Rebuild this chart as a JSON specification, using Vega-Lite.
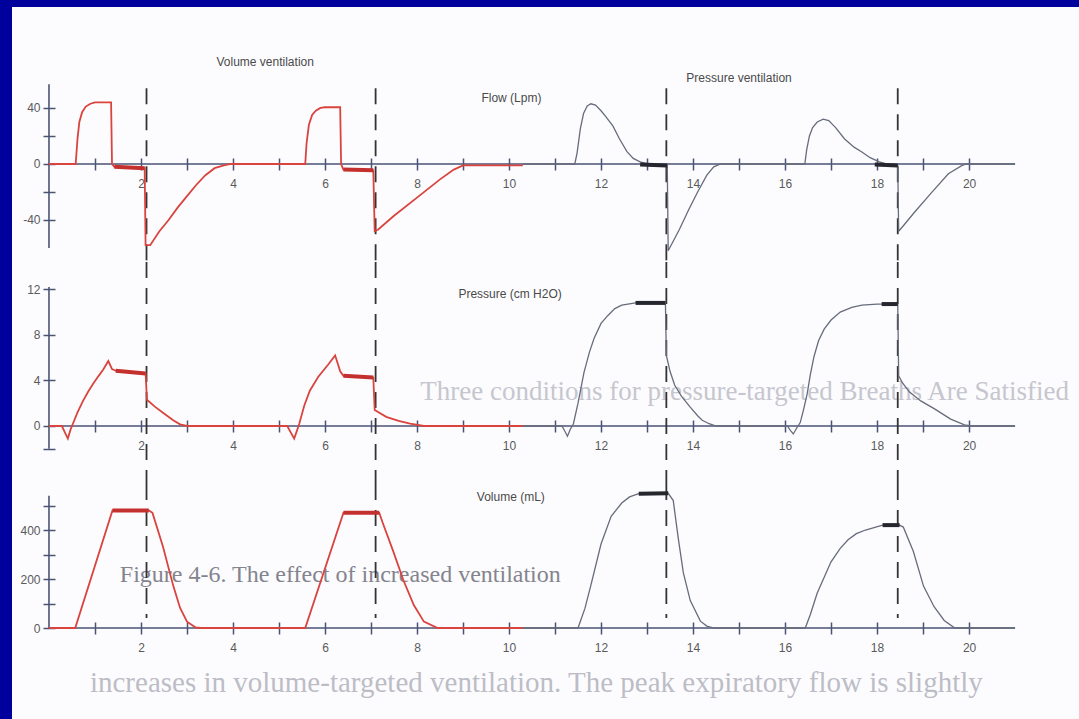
{
  "$schema": "https://vega.github.io/schema/vega-lite/v6.json",
  "padding": {"left": 12, "top": 7, "right": 0, "bottom": 0},
  "background": "#00009c",
  "spacing": 0,
  "bounds": "flush",
  "config": {
    "view": {"fill": "#fcfcfe", "stroke": null},
    "font": "Liberation Sans",
    "concat": {"spacing": 0},
    "axis": {
      "domain": false,
      "grid": false,
      "title": null,
      "tickSize": 12,
      "tickWidth": 1.5,
      "tickColor": "#4b5374",
      "labelColor": "#5a5a5a",
      "labelFont": "Liberation Sans",
      "labelFontSize": 12,
      "labelOverlap": false,
      "labelFlush": false
    }
  },
  "datasets": {
    "flow": [
      {"t": 0, "v": 0, "mode": "volume"}, {"t": 0.58, "v": 0, "mode": "volume"}, {"t": 0.62, "v": 18, "mode": "volume"},
      {"t": 0.66, "v": 30, "mode": "volume"}, {"t": 0.72, "v": 37, "mode": "volume"}, {"t": 0.8, "v": 41, "mode": "volume"},
      {"t": 0.9, "v": 43, "mode": "volume"}, {"t": 1.0, "v": 44, "mode": "volume"}, {"t": 1.35, "v": 44, "mode": "volume"},
      {"t": 1.37, "v": 0, "mode": "volume"}, {"t": 1.42, "v": -2, "mode": "volume"}, {"t": 2.08, "v": -3, "mode": "volume"},
      {"t": 2.1, "v": -58, "mode": "volume"}, {"t": 2.2, "v": -58, "mode": "volume"}, {"t": 2.4, "v": -48, "mode": "volume"},
      {"t": 2.6, "v": -40, "mode": "volume"}, {"t": 2.8, "v": -31, "mode": "volume"}, {"t": 3.0, "v": -23, "mode": "volume"},
      {"t": 3.2, "v": -15, "mode": "volume"}, {"t": 3.4, "v": -8, "mode": "volume"}, {"t": 3.6, "v": -3, "mode": "volume"},
      {"t": 3.8, "v": -1, "mode": "volume"}, {"t": 3.95, "v": 0, "mode": "volume"}, {"t": 5.57, "v": 0, "mode": "volume"},
      {"t": 5.6, "v": 15, "mode": "volume"}, {"t": 5.65, "v": 28, "mode": "volume"}, {"t": 5.72, "v": 35, "mode": "volume"},
      {"t": 5.8, "v": 38, "mode": "volume"}, {"t": 5.9, "v": 40, "mode": "volume"}, {"t": 6.0, "v": 40.5, "mode": "volume"},
      {"t": 6.33, "v": 40.5, "mode": "volume"}, {"t": 6.35, "v": 0, "mode": "volume"}, {"t": 6.4, "v": -4, "mode": "volume"},
      {"t": 7.05, "v": -4.5, "mode": "volume"}, {"t": 7.08, "v": -48, "mode": "volume"}, {"t": 7.15, "v": -47, "mode": "volume"},
      {"t": 7.5, "v": -37, "mode": "volume"}, {"t": 8.0, "v": -24, "mode": "volume"}, {"t": 8.5, "v": -11, "mode": "volume"},
      {"t": 8.8, "v": -4, "mode": "volume"}, {"t": 9.0, "v": -1, "mode": "volume"}, {"t": 10.3, "v": -1, "mode": "volume"},
      {"t": 10.3, "v": 0, "mode": "pressure"}, {"t": 11.43, "v": 0, "mode": "pressure"}, {"t": 11.48, "v": 8, "mode": "pressure"},
      {"t": 11.55, "v": 25, "mode": "pressure"}, {"t": 11.62, "v": 36, "mode": "pressure"}, {"t": 11.7, "v": 41.5, "mode": "pressure"},
      {"t": 11.78, "v": 43, "mode": "pressure"}, {"t": 11.88, "v": 42, "mode": "pressure"}, {"t": 12.0, "v": 38, "mode": "pressure"},
      {"t": 12.1, "v": 34, "mode": "pressure"}, {"t": 12.26, "v": 27, "mode": "pressure"}, {"t": 12.4, "v": 18, "mode": "pressure"},
      {"t": 12.56, "v": 9, "mode": "pressure"}, {"t": 12.7, "v": 4, "mode": "pressure"}, {"t": 12.85, "v": 1.5, "mode": "pressure"},
      {"t": 13.0, "v": 0.3, "mode": "pressure"}, {"t": 13.44, "v": -1, "mode": "pressure"}, {"t": 13.46, "v": -62, "mode": "pressure"},
      {"t": 13.7, "v": -47, "mode": "pressure"}, {"t": 13.9, "v": -33, "mode": "pressure"}, {"t": 14.1, "v": -20, "mode": "pressure"},
      {"t": 14.3, "v": -8, "mode": "pressure"}, {"t": 14.45, "v": -2, "mode": "pressure"}, {"t": 14.6, "v": 0, "mode": "pressure"},
      {"t": 16.43, "v": 0, "mode": "pressure"}, {"t": 16.47, "v": 10, "mode": "pressure"}, {"t": 16.53, "v": 20, "mode": "pressure"},
      {"t": 16.6, "v": 26, "mode": "pressure"}, {"t": 16.7, "v": 30, "mode": "pressure"}, {"t": 16.83, "v": 32, "mode": "pressure"},
      {"t": 16.95, "v": 31, "mode": "pressure"}, {"t": 17.1, "v": 26, "mode": "pressure"}, {"t": 17.29, "v": 18, "mode": "pressure"},
      {"t": 17.5, "v": 12, "mode": "pressure"}, {"t": 17.67, "v": 8.6, "mode": "pressure"}, {"t": 17.85, "v": 4.5, "mode": "pressure"},
      {"t": 18.05, "v": 1.5, "mode": "pressure"}, {"t": 18.2, "v": 0, "mode": "pressure"}, {"t": 18.45, "v": -1, "mode": "pressure"},
      {"t": 18.47, "v": -48, "mode": "pressure"}, {"t": 18.55, "v": -45, "mode": "pressure"}, {"t": 18.8, "v": -35, "mode": "pressure"},
      {"t": 19.17, "v": -21, "mode": "pressure"}, {"t": 19.55, "v": -7, "mode": "pressure"}, {"t": 19.85, "v": -1, "mode": "pressure"},
      {"t": 19.95, "v": 0, "mode": "pressure"}, {"t": 21, "v": 0, "mode": "pressure"}
    ],
    "pressure": [
      {"t": 0, "v": 0, "mode": "volume"}, {"t": 0.28, "v": 0, "mode": "volume"}, {"t": 0.35, "v": -0.6, "mode": "volume"},
      {"t": 0.41, "v": -1.1, "mode": "volume"}, {"t": 0.47, "v": -0.3, "mode": "volume"}, {"t": 0.52, "v": 0.2, "mode": "volume"},
      {"t": 0.62, "v": 1.2, "mode": "volume"}, {"t": 0.74, "v": 2.2, "mode": "volume"}, {"t": 0.85, "v": 3.0, "mode": "volume"},
      {"t": 0.96, "v": 3.7, "mode": "volume"}, {"t": 1.08, "v": 4.4, "mode": "volume"}, {"t": 1.18, "v": 4.95, "mode": "volume"},
      {"t": 1.29, "v": 5.7, "mode": "volume"}, {"t": 1.37, "v": 5.0, "mode": "volume"}, {"t": 1.45, "v": 4.85, "mode": "volume"},
      {"t": 2.1, "v": 4.6, "mode": "volume"}, {"t": 2.13, "v": 2.3, "mode": "volume"}, {"t": 2.3, "v": 1.7, "mode": "volume"},
      {"t": 2.5, "v": 1.1, "mode": "volume"}, {"t": 2.7, "v": 0.5, "mode": "volume"}, {"t": 2.85, "v": 0.15, "mode": "volume"},
      {"t": 3.0, "v": 0, "mode": "volume"}, {"t": 5.18, "v": 0, "mode": "volume"}, {"t": 5.26, "v": -0.6, "mode": "volume"},
      {"t": 5.33, "v": -1.1, "mode": "volume"}, {"t": 5.4, "v": -0.3, "mode": "volume"}, {"t": 5.44, "v": 0.2, "mode": "volume"},
      {"t": 5.55, "v": 1.8, "mode": "volume"}, {"t": 5.67, "v": 3.1, "mode": "volume"}, {"t": 5.85, "v": 4.3, "mode": "volume"},
      {"t": 6.07, "v": 5.4, "mode": "volume"}, {"t": 6.22, "v": 6.2, "mode": "volume"}, {"t": 6.33, "v": 4.8, "mode": "volume"},
      {"t": 6.4, "v": 4.4, "mode": "volume"}, {"t": 7.05, "v": 4.25, "mode": "volume"}, {"t": 7.08, "v": 1.4, "mode": "volume"},
      {"t": 7.33, "v": 0.8, "mode": "volume"}, {"t": 7.6, "v": 0.45, "mode": "volume"}, {"t": 7.85, "v": 0.2, "mode": "volume"},
      {"t": 8.15, "v": 0, "mode": "volume"}, {"t": 10.3, "v": 0, "mode": "volume"},
      {"t": 10.3, "v": 0, "mode": "pressure"}, {"t": 11.15, "v": 0, "mode": "pressure"}, {"t": 11.22, "v": -0.5, "mode": "pressure"},
      {"t": 11.27, "v": -0.9, "mode": "pressure"}, {"t": 11.33, "v": -0.3, "mode": "pressure"}, {"t": 11.4, "v": 0.2, "mode": "pressure"},
      {"t": 11.5, "v": 2.0, "mode": "pressure"}, {"t": 11.63, "v": 4.7, "mode": "pressure"}, {"t": 11.75, "v": 6.5, "mode": "pressure"},
      {"t": 11.85, "v": 7.7, "mode": "pressure"}, {"t": 12.0, "v": 9.0, "mode": "pressure"}, {"t": 12.15, "v": 9.7, "mode": "pressure"},
      {"t": 12.3, "v": 10.3, "mode": "pressure"}, {"t": 12.45, "v": 10.6, "mode": "pressure"}, {"t": 12.75, "v": 10.8, "mode": "pressure"},
      {"t": 13.4, "v": 10.8, "mode": "pressure"}, {"t": 13.42, "v": 6.2, "mode": "pressure"}, {"t": 13.5, "v": 4.8, "mode": "pressure"},
      {"t": 13.6, "v": 3.6, "mode": "pressure"}, {"t": 13.75, "v": 2.6, "mode": "pressure"}, {"t": 13.93, "v": 1.7, "mode": "pressure"},
      {"t": 14.1, "v": 0.9, "mode": "pressure"}, {"t": 14.2, "v": 0.5, "mode": "pressure"}, {"t": 14.35, "v": 0.2, "mode": "pressure"},
      {"t": 14.5, "v": 0, "mode": "pressure"}, {"t": 16.05, "v": 0, "mode": "pressure"}, {"t": 16.12, "v": -0.4, "mode": "pressure"},
      {"t": 16.18, "v": -0.7, "mode": "pressure"}, {"t": 16.25, "v": -0.2, "mode": "pressure"}, {"t": 16.33, "v": 0.3, "mode": "pressure"},
      {"t": 16.4, "v": 1.4, "mode": "pressure"}, {"t": 16.48, "v": 2.8, "mode": "pressure"}, {"t": 16.55, "v": 4.5, "mode": "pressure"},
      {"t": 16.63, "v": 6.1, "mode": "pressure"}, {"t": 16.73, "v": 7.5, "mode": "pressure"}, {"t": 16.85, "v": 8.5, "mode": "pressure"},
      {"t": 17.0, "v": 9.3, "mode": "pressure"}, {"t": 17.2, "v": 10.0, "mode": "pressure"}, {"t": 17.45, "v": 10.4, "mode": "pressure"},
      {"t": 17.67, "v": 10.6, "mode": "pressure"}, {"t": 18.0, "v": 10.7, "mode": "pressure"}, {"t": 18.45, "v": 10.7, "mode": "pressure"},
      {"t": 18.47, "v": 4.4, "mode": "pressure"}, {"t": 18.55, "v": 3.8, "mode": "pressure"}, {"t": 18.7, "v": 3.0, "mode": "pressure"},
      {"t": 18.95, "v": 2.2, "mode": "pressure"}, {"t": 19.25, "v": 1.5, "mode": "pressure"}, {"t": 19.6, "v": 0.6, "mode": "pressure"},
      {"t": 19.9, "v": 0.1, "mode": "pressure"}, {"t": 20.05, "v": 0, "mode": "pressure"}, {"t": 21, "v": 0, "mode": "pressure"}
    ],
    "volume": [
      {"t": 0, "v": 0, "mode": "volume"}, {"t": 0.57, "v": 0, "mode": "volume"}, {"t": 1.38, "v": 480, "mode": "volume"},
      {"t": 2.17, "v": 480, "mode": "volume"}, {"t": 2.25, "v": 470, "mode": "volume"}, {"t": 2.48, "v": 331, "mode": "volume"},
      {"t": 2.7, "v": 173, "mode": "volume"}, {"t": 2.85, "v": 82, "mode": "volume"}, {"t": 3.0, "v": 26, "mode": "volume"},
      {"t": 3.19, "v": 2, "mode": "volume"}, {"t": 3.3, "v": 0, "mode": "volume"}, {"t": 5.57, "v": 0, "mode": "volume"},
      {"t": 6.4, "v": 470, "mode": "volume"}, {"t": 7.18, "v": 470, "mode": "volume"}, {"t": 7.25, "v": 432, "mode": "volume"},
      {"t": 7.48, "v": 315, "mode": "volume"}, {"t": 7.7, "v": 197, "mode": "volume"}, {"t": 7.93, "v": 94, "mode": "volume"},
      {"t": 8.15, "v": 26, "mode": "volume"}, {"t": 8.45, "v": 0, "mode": "volume"}, {"t": 10.3, "v": 0, "mode": "volume"},
      {"t": 10.3, "v": 0, "mode": "pressure"}, {"t": 11.5, "v": 0, "mode": "pressure"}, {"t": 11.65, "v": 80, "mode": "pressure"},
      {"t": 11.78, "v": 175, "mode": "pressure"}, {"t": 12.0, "v": 343, "mode": "pressure"}, {"t": 12.22, "v": 456, "mode": "pressure"},
      {"t": 12.45, "v": 510, "mode": "pressure"}, {"t": 12.62, "v": 535, "mode": "pressure"}, {"t": 12.82, "v": 548, "mode": "pressure"},
      {"t": 13.46, "v": 550, "mode": "pressure"}, {"t": 13.57, "v": 520, "mode": "pressure"}, {"t": 13.68, "v": 365, "mode": "pressure"},
      {"t": 13.79, "v": 225, "mode": "pressure"}, {"t": 13.94, "v": 112, "mode": "pressure"}, {"t": 14.16, "v": 28, "mode": "pressure"},
      {"t": 14.3, "v": 8, "mode": "pressure"}, {"t": 14.46, "v": 0, "mode": "pressure"}, {"t": 16.44, "v": 0, "mode": "pressure"},
      {"t": 16.55, "v": 55, "mode": "pressure"}, {"t": 16.7, "v": 143, "mode": "pressure"}, {"t": 17.0, "v": 270, "mode": "pressure"},
      {"t": 17.2, "v": 325, "mode": "pressure"}, {"t": 17.37, "v": 360, "mode": "pressure"}, {"t": 17.55, "v": 385, "mode": "pressure"},
      {"t": 17.75, "v": 400, "mode": "pressure"}, {"t": 18.12, "v": 420, "mode": "pressure"}, {"t": 18.49, "v": 420, "mode": "pressure"},
      {"t": 18.57, "v": 412, "mode": "pressure"}, {"t": 18.79, "v": 312, "mode": "pressure"}, {"t": 19.01, "v": 171, "mode": "pressure"},
      {"t": 19.24, "v": 87, "mode": "pressure"}, {"t": 19.46, "v": 31, "mode": "pressure"}, {"t": 19.69, "v": 0, "mode": "pressure"},
      {"t": 21, "v": 0, "mode": "pressure"}
    ],
    "pauses": [
      {"panel": "flow", "seg": 1, "mode": "volume", "t": 1.42, "v": -2}, {"panel": "flow", "seg": 1, "mode": "volume", "t": 2.08, "v": -3},
      {"panel": "flow", "seg": 2, "mode": "volume", "t": 6.4, "v": -4}, {"panel": "flow", "seg": 2, "mode": "volume", "t": 7.05, "v": -4.5},
      {"panel": "flow", "seg": 3, "mode": "pressure", "t": 12.85, "v": -0.3}, {"panel": "flow", "seg": 3, "mode": "pressure", "t": 13.44, "v": -1},
      {"panel": "flow", "seg": 4, "mode": "pressure", "t": 17.95, "v": -0.3}, {"panel": "flow", "seg": 4, "mode": "pressure", "t": 18.45, "v": -1},
      {"panel": "pressure", "seg": 1, "mode": "volume", "t": 1.45, "v": 4.85}, {"panel": "pressure", "seg": 1, "mode": "volume", "t": 2.1, "v": 4.6},
      {"panel": "pressure", "seg": 2, "mode": "volume", "t": 6.4, "v": 4.4}, {"panel": "pressure", "seg": 2, "mode": "volume", "t": 7.05, "v": 4.25},
      {"panel": "pressure", "seg": 3, "mode": "pressure", "t": 12.75, "v": 10.8}, {"panel": "pressure", "seg": 3, "mode": "pressure", "t": 13.4, "v": 10.8},
      {"panel": "pressure", "seg": 4, "mode": "pressure", "t": 18.1, "v": 10.7}, {"panel": "pressure", "seg": 4, "mode": "pressure", "t": 18.45, "v": 10.7},
      {"panel": "volume", "seg": 1, "mode": "volume", "t": 1.38, "v": 480}, {"panel": "volume", "seg": 1, "mode": "volume", "t": 2.17, "v": 480},
      {"panel": "volume", "seg": 2, "mode": "volume", "t": 6.4, "v": 470}, {"panel": "volume", "seg": 2, "mode": "volume", "t": 7.18, "v": 470},
      {"panel": "volume", "seg": 3, "mode": "pressure", "t": 12.82, "v": 548}, {"panel": "volume", "seg": 3, "mode": "pressure", "t": 13.46, "v": 550},
      {"panel": "volume", "seg": 4, "mode": "pressure", "t": 18.12, "v": 420}, {"panel": "volume", "seg": 4, "mode": "pressure", "t": 18.49, "v": 420}
    ],
    "breathEnds": [{"t": 2.12}, {"t": 7.1}, {"t": 13.42}, {"t": 18.45}]
  },
  "vconcat": [
    {
      "width": 1067,
      "height": 255,
      "layer": [
        {
          "data": {"values": [{}]},
          "mark": {"type": "rule", "stroke": "#4b5374", "strokeWidth": 1.6},
          "encoding": {"x": {"datum": 0}, "y": {"datum": -60}, "y2": {"datum": 57}}
        },
        {
          "data": {"values": [{}]},
          "mark": {"type": "rule", "stroke": "#4b5374", "strokeWidth": 1.6},
          "encoding": {"x": {"datum": 0}, "x2": {"datum": 21}, "y": {"datum": 0}}
        },
        {
          "data": {"name": "breathEnds"},
          "mark": {"type": "rule", "stroke": "#333333", "strokeWidth": 1.8, "strokeDash": [16, 10]},
          "encoding": {"x": {"field": "t", "type": "quantitative"}, "y": {"datum": 54}, "y2": {"datum": -70}}
        },
        {
          "data": {"name": "flow"},
          "mark": {"type": "line"},
          "encoding": {
            "x": {"field": "t", "type": "quantitative", "scale": {"domain": [-0.804, 22.39], "nice": false, "zero": false},
              "axis": {"orient": "bottom", "offset": -104, "title": null, "values": [1,2,3,4,5,6,7,8,9,10,11,12,13,14,15,16,17,18,19,20], "labelPadding": 8, "labelExpr": "datum.value % 2 == 0 ? datum.label : ''"}},
            "y": {"field": "v", "type": "quantitative", "scale": {"domain": [-70, 112.1], "nice": false, "zero": false},
              "axis": {"orient": "left", "offset": -43, "title": null, "values": [-40, -20, 0, 20, 40], "labelPadding": 3, "labelExpr": "datum.value % 40 == 0 ? '' + datum.value : ''"}},
            "color": {"field": "mode", "type": "nominal", "scale": {"domain": ["volume", "pressure"], "range": ["#d9443f", "#676c7c"]}, "legend": null},
            "size": {"field": "mode", "type": "nominal", "scale": {"domain": ["volume", "pressure"], "range": [1.8, 1.3]}, "legend": null}
          }
        },
        {
          "data": {"name": "pauses"},
          "transform": [{"filter": "datum.panel == 'flow'"}],
          "mark": {"type": "line", "strokeWidth": 4},
          "encoding": {
            "x": {"field": "t", "type": "quantitative"},
            "y": {"field": "v", "type": "quantitative"},
            "detail": {"field": "seg"},
            "stroke": {"field": "mode", "type": "nominal", "scale": {"domain": ["volume", "pressure"], "range": ["#c4302e", "#26262f"]}, "legend": null}
          }
        },
        {
          "data": {"values": [{}]},
          "mark": {"type": "text", "fontSize": 12, "fill": "#4a4a4a", "align": "center"},
          "encoding": {"x": {"datum": 4.7}, "y": {"datum": 72.9}, "text": {"value": "Volume ventilation"}}
        },
        {
          "data": {"values": [{}]},
          "mark": {"type": "text", "fontSize": 12, "fill": "#4a4a4a", "align": "center"},
          "encoding": {"x": {"datum": 15.0}, "y": {"datum": 61.4}, "text": {"value": "Pressure ventilation"}}
        },
        {
          "data": {"values": [{}]},
          "mark": {"type": "text", "fontSize": 12, "fill": "#4a4a4a", "align": "left"},
          "encoding": {"x": {"datum": 9.4}, "y": {"datum": 47}, "text": {"value": "Flow (Lpm)"}}
        }
      ]
    },
    {
      "width": 1067,
      "height": 222,
      "layer": [
        {
          "data": {"values": [{}]},
          "mark": {"type": "text", "font": "Liberation Serif", "fontSize": 27, "fill": "#c6c6ce", "align": "left"},
          "encoding": {"x": {"datum": 8.07}, "y": {"datum": 3.0}, "text": {"value": "Three conditions for pressure-targeted Breaths Are Satisfied"}}
        },
        {
          "data": {"values": [{}]},
          "mark": {"type": "rule", "stroke": "#4b5374", "strokeWidth": 1.6},
          "encoding": {"x": {"datum": 0}, "y": {"datum": -2}, "y2": {"datum": 12.2}}
        },
        {
          "data": {"values": [{}]},
          "mark": {"type": "rule", "stroke": "#4b5374", "strokeWidth": 1.6},
          "encoding": {"x": {"datum": 0}, "x2": {"datum": 21}, "y": {"datum": 0}}
        },
        {
          "data": {"name": "breathEnds"},
          "mark": {"type": "rule", "stroke": "#333333", "strokeWidth": 1.8, "strokeDash": [16, 10]},
          "encoding": {"x": {"field": "t", "type": "quantitative"}, "y": {"datum": 14.39}, "y2": {"datum": -5.09}}
        },
        {
          "data": {"name": "pressure"},
          "mark": {"type": "line"},
          "encoding": {
            "x": {"field": "t", "type": "quantitative", "scale": {"domain": [-0.804, 22.39], "nice": false, "zero": false},
              "axis": {"orient": "bottom", "offset": -64, "title": null, "values": [1,2,3,4,5,6,7,8,9,10,11,12,13,14,15,16,17,18,19,20], "labelPadding": 8, "labelExpr": "datum.value % 2 == 0 ? datum.label : ''"}},
            "y": {"field": "v", "type": "quantitative", "scale": {"domain": [-5.09, 14.39], "nice": false, "zero": false},
              "axis": {"orient": "left", "offset": -43, "title": null, "values": [-2, 0, 4, 8, 12], "labelPadding": 3, "labelExpr": "datum.value >= 0 ? '' + datum.value : ''"}},
            "color": {"field": "mode", "type": "nominal", "scale": {"domain": ["volume", "pressure"], "range": ["#d9443f", "#676c7c"]}, "legend": null},
            "size": {"field": "mode", "type": "nominal", "scale": {"domain": ["volume", "pressure"], "range": [1.8, 1.3]}, "legend": null}
          }
        },
        {
          "data": {"name": "pauses"},
          "transform": [{"filter": "datum.panel == 'pressure'"}],
          "mark": {"type": "line", "strokeWidth": 4},
          "encoding": {
            "x": {"field": "t", "type": "quantitative"},
            "y": {"field": "v", "type": "quantitative"},
            "detail": {"field": "seg"},
            "stroke": {"field": "mode", "type": "nominal", "scale": {"domain": ["volume", "pressure"], "range": ["#c4302e", "#26262f"]}, "legend": null}
          }
        },
        {
          "data": {"values": [{}]},
          "mark": {"type": "text", "fontSize": 12, "fill": "#4a4a4a", "align": "left"},
          "encoding": {"x": {"datum": 8.9}, "y": {"datum": 11.6}, "text": {"value": "Pressure (cm H2O)"}}
        }
      ]
    },
    {
      "width": 1067,
      "height": 235,
      "layer": [
        {
          "data": {"values": [{}]},
          "mark": {"type": "text", "font": "Liberation Serif", "fontSize": 24, "fill": "#84848e", "align": "left"},
          "encoding": {"x": {"datum": 1.54}, "y": {"datum": 216}, "text": {"value": "Figure 4-6. The effect of increased ventilation"}}
        },
        {
          "data": {"values": [{}]},
          "mark": {"type": "text", "font": "Liberation Serif", "fontSize": 29, "fill": "#bdbdc6", "align": "left"},
          "encoding": {"x": {"datum": 0.89}, "y": {"datum": -224}, "text": {"value": "increases in volume-targeted ventilation. The peak expiratory flow is slightly"}}
        },
        {
          "data": {"values": [{}]},
          "mark": {"type": "rule", "stroke": "#4b5374", "strokeWidth": 1.6},
          "encoding": {"x": {"datum": 0}, "y": {"datum": 0}, "y2": {"datum": 540}}
        },
        {
          "data": {"values": [{}]},
          "mark": {"type": "rule", "stroke": "#4b5374", "strokeWidth": 1.6},
          "encoding": {"x": {"datum": 0}, "x2": {"datum": 21}, "y": {"datum": 0}}
        },
        {
          "data": {"name": "breathEnds"},
          "mark": {"type": "rule", "stroke": "#333333", "strokeWidth": 1.8, "strokeDash": [16, 10]},
          "encoding": {"x": {"field": "t", "type": "quantitative"}, "y": {"datum": 587.8}, "y2": {"datum": 41}}
        },
        {
          "data": {"name": "volume"},
          "mark": {"type": "line"},
          "encoding": {
            "x": {"field": "t", "type": "quantitative", "scale": {"domain": [-0.804, 22.39], "nice": false, "zero": false},
              "axis": {"orient": "bottom", "offset": -97, "title": null, "values": [1,2,3,4,5,6,7,8,9,10,11,12,13,14,15,16,17,18,19,20], "labelPadding": 8, "labelExpr": "datum.value % 2 == 0 ? datum.label : ''"}},
            "y": {"field": "v", "type": "quantitative", "scale": {"domain": [-371.4, 587.8], "nice": false, "zero": false},
              "axis": {"orient": "left", "offset": -43, "title": null, "values": [0, 100, 200, 300, 400, 500], "labelPadding": 3, "labelExpr": "datum.value % 200 == 0 ? '' + datum.value : ''"}},
            "color": {"field": "mode", "type": "nominal", "scale": {"domain": ["volume", "pressure"], "range": ["#d9443f", "#676c7c"]}, "legend": null},
            "size": {"field": "mode", "type": "nominal", "scale": {"domain": ["volume", "pressure"], "range": [1.8, 1.3]}, "legend": null}
          }
        },
        {
          "data": {"name": "pauses"},
          "transform": [{"filter": "datum.panel == 'volume'"}],
          "mark": {"type": "line", "strokeWidth": 4},
          "encoding": {
            "x": {"field": "t", "type": "quantitative"},
            "y": {"field": "v", "type": "quantitative"},
            "detail": {"field": "seg"},
            "stroke": {"field": "mode", "type": "nominal", "scale": {"domain": ["volume", "pressure"], "range": ["#c4302e", "#26262f"]}, "legend": null}
          }
        },
        {
          "data": {"values": [{}]},
          "mark": {"type": "text", "fontSize": 12, "fill": "#4a4a4a", "align": "left"},
          "encoding": {"x": {"datum": 9.3}, "y": {"datum": 535}, "text": {"value": "Volume (mL)"}}
        }
      ]
    }
  ]
}
